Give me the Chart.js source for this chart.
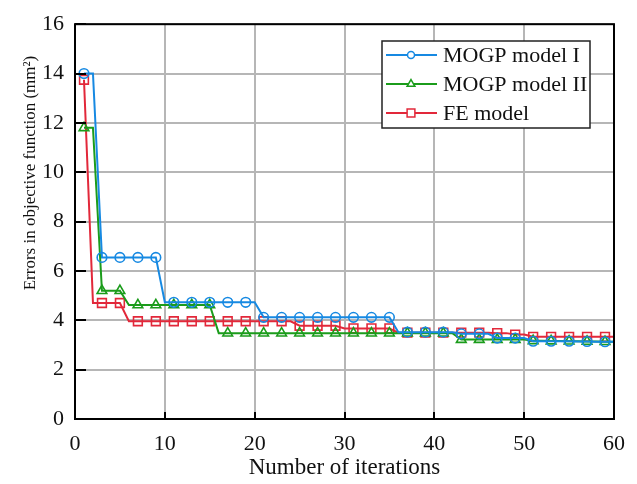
<!DOCTYPE html>
<html>
<head>
<meta charset="utf-8">
<script src="https://cdn.jsdelivr.net/npm/chart.js@4"></script>
<style>
  html, body { margin: 0; padding: 0; background: #fff; }
  #wrap { width: 637px; height: 484px; }
</style>
</head>
<body>
<div id="wrap"><canvas id="chart"></canvas></div>
<script>
// iteration numbers (x)
const iterations = [1, 2, 3, 4, 5, 6, 7, 8, 9, 10, 11, 12, 13, 14, 15, 16, 17, 18, 19, 20,
    21, 22, 23, 24, 25, 26, 27, 28, 29, 30, 31, 32, 33, 34, 35, 36, 37, 38, 39, 40,
    41, 42, 43, 44, 45, 46, 47, 48, 49, 50, 51, 52, 53, 54, 55, 56, 57, 58, 59, 60];

const mogp1 = [14.0, 14.0, 6.55, 6.55, 6.55, 6.55, 6.55, 6.55, 6.55, 4.73,
    4.73, 4.73, 4.73, 4.73, 4.73, 4.73, 4.73, 4.73, 4.73, 4.73,
    4.12, 4.12, 4.12, 4.12, 4.12, 4.12, 4.12, 4.12, 4.12, 4.12,
    4.12, 4.12, 4.12, 4.12, 4.12, 3.52, 3.52, 3.52, 3.52, 3.52,
    3.52, 3.52, 3.45, 3.45, 3.45, 3.45, 3.28, 3.28, 3.28, 3.28,
    3.15, 3.15, 3.15, 3.15, 3.15, 3.14, 3.14, 3.13, 3.13, 3.13];

const mogp2 = [11.8, 11.8, 5.2, 5.2, 5.2, 4.62, 4.62, 4.62, 4.62, 4.62,
    4.62, 4.62, 4.62, 4.62, 4.62, 3.48, 3.48, 3.48, 3.48, 3.48,
    3.48, 3.48, 3.48, 3.48, 3.48, 3.48, 3.48, 3.48, 3.48, 3.48,
    3.48, 3.48, 3.48, 3.48, 3.48, 3.48, 3.48, 3.48, 3.48, 3.48,
    3.48, 3.48, 3.22, 3.22, 3.22, 3.22, 3.22, 3.22, 3.22, 3.22,
    3.17, 3.17, 3.16, 3.16, 3.15, 3.15, 3.14, 3.14, 3.13, 3.13];

const feModel = [13.75, 4.7, 4.7, 4.7, 4.7, 3.96, 3.96, 3.96, 3.96, 3.96,
    3.96, 3.96, 3.96, 3.96, 3.96, 3.96, 3.96, 3.96, 3.96, 3.96,
    3.96, 3.96, 3.96, 3.96, 3.78, 3.78, 3.78, 3.78, 3.78, 3.67,
    3.67, 3.67, 3.67, 3.67, 3.67, 3.5, 3.5, 3.5, 3.5, 3.5,
    3.5, 3.5, 3.5, 3.5, 3.5, 3.5, 3.48, 3.48, 3.42, 3.42,
    3.33, 3.33, 3.33, 3.33, 3.33, 3.33, 3.33, 3.33, 3.33, 3.33];

const seriesNames = ['MOGP model I', 'MOGP model II', 'FE model'];
const xTicks = [0, 10, 20, 30, 40, 50, 60];
const yTicks = [0, 2, 4, 6, 8, 10, 12, 14, 16];

const SERIF = '"Liberation Serif", "Times New Roman", serif';

function toPoints(values) {
    return values.map((v, i) => ({ x: iterations[i], y: v }));
}

// markers only on odd iterations
function markerSize(r) {
    return (c) => (c.dataIndex % 2 === 0 ? r : 0);
}

const frameAndLegend = {
    id: 'frameAndLegend',
    afterDatasetsDraw(chart) {
        const ctx = chart.ctx;
        const area = chart.chartArea;
        const xs = chart.scales.x;
        const ys = chart.scales.y;
        ctx.save();

        // inner tick marks
        ctx.strokeStyle = '#000';
        ctx.lineWidth = 2;
        ctx.beginPath();
        yTicks.forEach(t => {
            const py = Math.round(ys.getPixelForValue(t));
            ctx.moveTo(area.left, py);
            ctx.lineTo(area.left + 11, py);
        });
        xTicks.forEach(t => {
            const px = Math.round(xs.getPixelForValue(t));
            ctx.moveTo(px, area.bottom);
            ctx.lineTo(px, area.bottom - 7);
        });
        ctx.stroke();

        // frame
        ctx.lineWidth = 2;
        ctx.strokeRect(area.left, area.top, area.right - area.left, area.bottom - area.top);

        // y title
        ctx.fillStyle = '#111';
        ctx.font = '17px ' + SERIF;
        ctx.textAlign = 'center';
        ctx.textBaseline = 'alphabetic';
        ctx.translate(35, 173);
        ctx.rotate(-Math.PI / 2);
        ctx.fillText('Errors in objective function (mm²)', 0, 0);
        ctx.setTransform(1, 0, 0, 1, 0, 0);

        // legend box
        const bx = 382, by = 41, bw = 208, bh = 87;
        ctx.fillStyle = '#fff';
        ctx.fillRect(bx, by, bw, bh);
        ctx.lineWidth = 1.5;
        ctx.strokeStyle = '#222';
        ctx.strokeRect(bx, by, bw, bh);

        ctx.font = '22px ' + SERIF;
        ctx.textAlign = 'left';
        ctx.textBaseline = 'middle';
        chart.data.datasets.forEach((ds, i) => {
            const ly = 55 + i * 29;
            ctx.strokeStyle = ds.borderColor;
            ctx.lineWidth = 2;
            ctx.beginPath();
            ctx.moveTo(386, ly);
            ctx.lineTo(437, ly);
            ctx.stroke();
            ctx.fillStyle = '#fff';
            ctx.lineWidth = 1.5;
            Chart.helpers.drawPoint(ctx, {
                pointStyle: ds.pointStyle,
                radius: ds.legendRadius,
                borderWidth: 1.5
            }, 411, ly);
            ctx.fillStyle = '#111';
            ctx.fillText(ds.label, 443, ly + 1);
        });
        ctx.restore();
    }
};

const ctx = document.getElementById('chart').getContext('2d');
const chart = new Chart(ctx, {
    type: 'line',
    data: {
        datasets: [{
            label: seriesNames[0],
            data: toPoints(mogp1),
            borderColor: '#1689e2',
            pointBorderColor: '#1689e2',
            pointBackgroundColor: 'transparent',
            pointStyle: 'circle',
            pointRadius: markerSize(4.8),
            pointBorderWidth: 1.6,
            legendRadius: 3.5,
            borderWidth: 2,
            tension: 0
        }, {
            label: seriesNames[1],
            data: toPoints(mogp2),
            borderColor: '#1b9c1b',
            pointBorderColor: '#1b9c1b',
            pointBackgroundColor: 'transparent',
            pointStyle: 'triangle',
            pointRadius: markerSize(5.6),
            pointBorderWidth: 1.6,
            legendRadius: 4.5,
            borderWidth: 2,
            tension: 0
        }, {
            label: seriesNames[2],
            data: toPoints(feModel),
            borderColor: '#e2283a',
            pointBorderColor: '#e2283a',
            pointBackgroundColor: 'transparent',
            pointStyle: 'rect',
            pointRadius: markerSize(6.2),
            pointBorderWidth: 1.6,
            legendRadius: 5.5,
            borderWidth: 2,
            tension: 0
        }]
    },
    options: {
        responsive: true,
        maintainAspectRatio: false,
        animation: false,
        layout: {
            padding: { left: 0, right: 12, top: 14, bottom: 0 }
        },
        scales: {
            x: {
                type: 'linear',
                min: 0,
                max: 60,
                afterBuildTicks: (s) => { s.ticks = xTicks.map(v => ({ value: v })); },
                afterFit: (s) => { s.height = 65; },
                grid: { color: '#b6b6b6', lineWidth: 2, drawTicks: false },
                border: { display: false },
                ticks: {
                    color: '#111',
                    padding: 12,
                    maxRotation: 0,
                    font: { family: SERIF, size: 22 }
                },
                title: {
                    display: true,
                    text: 'Number of iterations',
                    color: '#111',
                    padding: { top: 0, bottom: 2 },
                    font: { family: SERIF, size: 23 }
                }
            },
            y: {
                min: 0,
                max: 16,
                afterBuildTicks: (s) => { s.ticks = yTicks.map(v => ({ value: v })); },
                afterFit: (s) => { s.width = 75; },
                grid: { color: '#b6b6b6', lineWidth: 2, drawTicks: false },
                border: { display: false },
                ticks: {
                    color: '#111',
                    padding: 11,
                    font: { family: SERIF, size: 22 }
                }
            }
        },
        plugins: {
            legend: { display: false },
            tooltip: { enabled: false }
        }
    },
    plugins: [frameAndLegend]
});
</script>
</body>
</html>
